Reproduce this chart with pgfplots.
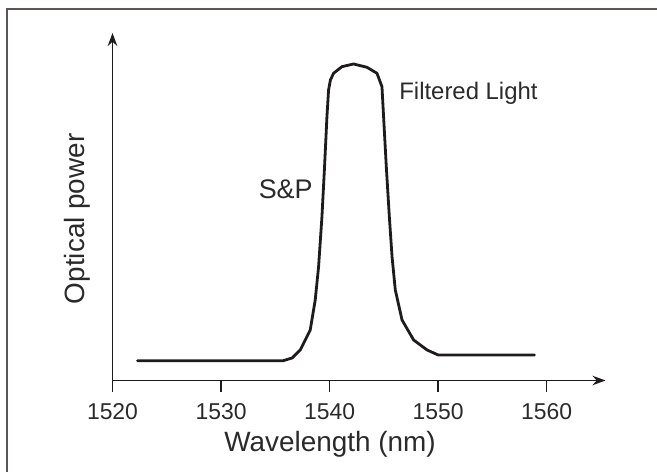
\documentclass[border=0pt]{standalone}
\usepackage{fontspec}
\setmainfont{Liberation Sans}
\usepackage{pgfplots}
\pgfplotsset{compat=1.18}
\usetikzlibrary{arrows.meta}
\definecolor{framegray}{HTML}{5A5552}
\definecolor{ink}{HTML}{1E1B1C}
\definecolor{txt}{HTML}{2A2A2A}
\begin{document}
\begin{tikzpicture}[x=1bp,y=1bp]
\useasboundingbox (0,0) rectangle (657,472);
\draw[line width=2bp, color=framegray] (7.3,0) -- (7.3,462.7) -- (657,462.7);
\begin{axis}[
  at={(112.5bp,91.5bp)}, anchor=south west,
  scale only axis, width=493bp, height=347.5bp,
  xmin=1520, xmax=1565.43, ymin=0, ymax=347.5,
  enlargelimits=false,
  axis lines=left,
  axis line style={draw=none},
  xtick={1520,1530,1540,1550,1560}, ytick=\empty,
  tick align=outside, major tick length=11.5bp,
  tick style={line width=1.5bp, color=ink},
  /pgf/number format/assume math mode=true,
  /pgf/number format/set thousands separator={},
  xticklabel style={font=\fontsize{23}{23}\selectfont, text=txt, anchor=base, yshift=-27.3bp},
  every axis x label/.style={at={(axis description cs:0.4412,-0.2049)}, anchor=base},
  every axis y label/.style={at={(axis description cs:-0.0568,0.4653)}, rotate=90, anchor=base},
  label style={font=\fontsize{28}{28}\selectfont, text=txt},
  xlabel={Wavelength (nm)},
  ylabel={Optical power},
  clip=false,
]
\draw[ink, line width=1.8bp, -{Stealth[length=13bp,width=9.5bp]}]
  (axis cs:1520,0) -- (axis cs:1565.43,0);
\draw[ink, line width=1.8bp, -{Stealth[length=13bp,width=9.5bp]}]
  (axis cs:1520,0) -- (axis cs:1520,347.5);
\addplot[ink, line width=2.8bp, line join=round, line cap=round, no markers] coordinates {
(1522.30,19.8) (1535.73,19.8) (1536.55,22.5) (1537.30,30.5) (1538.22,50.5)
(1538.68,80.5) (1538.99,113.8) (1539.30,163.8) (1539.54,213.8) (1539.76,263.8)
(1539.91,290.5) (1540.08,300.5) (1540.37,307.2) (1541.14,313.8) (1542.21,316.5)
(1543.45,313.2) (1544.37,307.2) (1544.83,293.8) (1544.98,263.8) (1545.23,213.8)
(1545.51,163.8) (1545.76,123.8) (1546.06,90.5) (1546.68,60.5) (1547.75,40.5)
(1548.99,30.5) (1550.01,25.5) (1558.88,25.5)
};
\node[anchor=base, font=\fontsize{24}{24}\selectfont, text=txt] at (axis cs:1552.8,281.2) {Filtered Light};
\node[anchor=base, font=\fontsize{27}{27}\selectfont, text=txt] at (axis cs:1535.96,182.2) {S\&P};
\end{axis}
\end{tikzpicture}
\end{document}
